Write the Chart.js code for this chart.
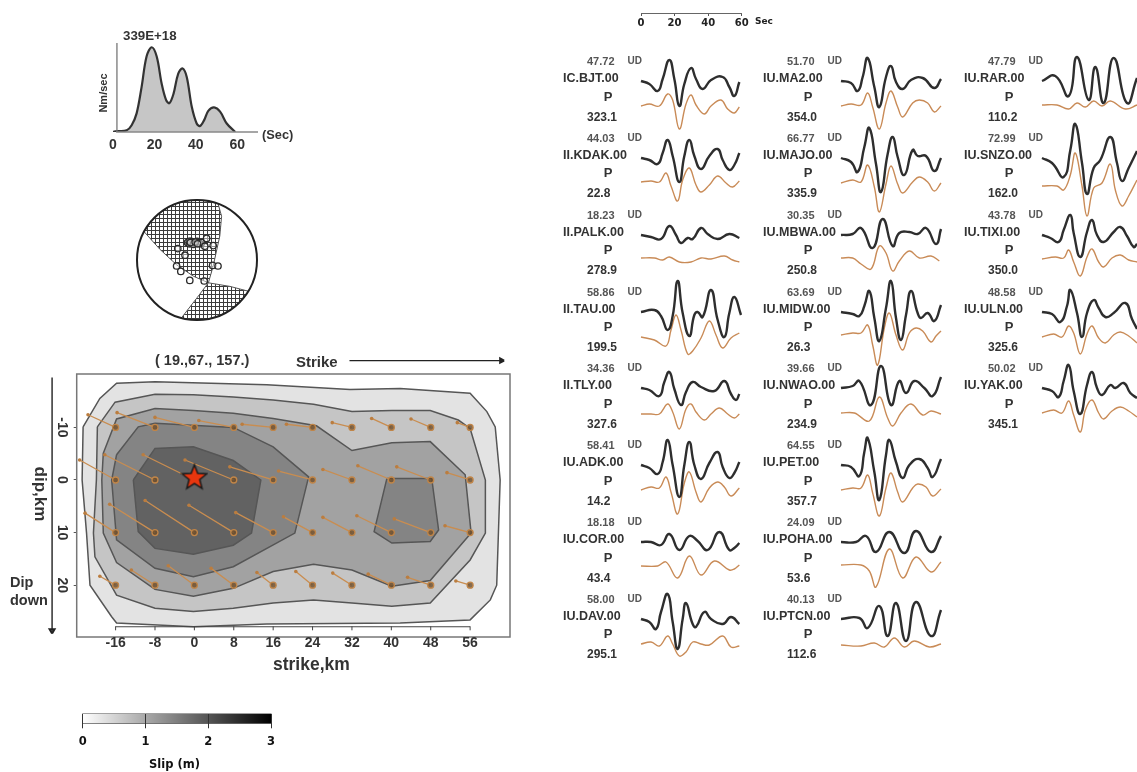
<!DOCTYPE html>
<html>
<head>
<meta charset="utf-8">
<title>Finite fault slip model</title>
<script src="https://cdn.jsdelivr.net/npm/chart.js@4"></script>
<style>
  html, body { margin: 0; padding: 0; background: #fff; overflow: hidden; }
  #page { position: relative; width: 1137px; height: 772px; overflow: hidden; filter: blur(0.6px); font-family: "Liberation Sans", Arial, sans-serif; }
  #page canvas { position: absolute; }
  .lbl { position: absolute; white-space: nowrap; line-height: 1; transform: translateY(-50%); font-weight: bold; color: #333; }
</style>
</head>
<body>
<div id="page"></div>
<script>
// source time function
var stfTime = [0, 1.8, 6.6, 9, 11.4, 13.8, 16.2, 18.7, 21.1, 23.5, 25.6, 27.2, 29.2, 31.5, 33.6, 35.6, 38, 40.4, 42, 44, 46, 48.8, 51.7, 54.9, 59];
var stfRate = [0, 1, 2, 8, 22, 53, 89, 100, 89, 57, 38, 34, 45, 69, 75, 65, 30, 10, 7, 14, 25, 29, 24, 10, 0];
var stfTicks = [0, 20, 40, 60];

// focal mechanism, unit circle coordinates
var nodalRegionA = [[-0.88, 0.47], [-0.62, 0.18], [-0.34, -0.08], [-0.06, -0.27], [0.19, -0.38], [0.27, -0.10], [0.38, 0.40], [0.41, 0.73], [0.35, 0.94], [0.17, 0.985], [0, 1], [-0.17, 0.985], [-0.34, 0.94], [-0.5, 0.866], [-0.64, 0.77], [-0.77, 0.64]];
var nodalRegionB = [[0.19, -0.38], [0.55, -0.44], [0.855, -0.52], [0.77, -0.64], [0.64, -0.77], [0.5, -0.866], [0.34, -0.94], [0.17, -0.985], [0, -1], [-0.17, -0.985], [-0.26, -0.966], [0, -0.63]];
var stationPolarity = [[-0.16, 0.29], [-0.13, 0.27], [-0.10, 0.31], [-0.08, 0.28], [-0.05, 0.30], [-0.02, 0.28], [0, 0.31], [0.03, 0.29], [-0.13, 0.31], [-0.06, 0.26], [0.05, 0.27], [0.08, 0.29], [-0.11, 0.29], [-0.03, 0.30], [0.01, 0.27], [0.16, 0.36], [0.13, 0.23], [0.27, 0.24], [-0.32, 0.19], [-0.20, 0.08], [-0.34, -0.10], [-0.27, -0.19], [-0.12, -0.34], [0.12, -0.35], [0.26, -0.09], [0.35, -0.10]];

// slip contours in km along strike / dip
var contourLevel1 = [[-22.6, -10.1], [-19.2, -15.5], [-15.8, -18.4], [-8, -18.7], [14.7, -18.1], [31.6, -17.2], [41.8, -17.4], [56, -16.5], [59.4, -13], [61.1, -10.1], [62.1, 0], [61.4, 20], [60.1, 22.8], [56, 26.6], [41.8, 27.2], [14.7, 27.4], [-0.2, 27.9], [-15.8, 27.2], [-16.8, 26], [-21.2, 20], [-21.9, 10.1], [-22.8, 0]];
var contourLevel2 = [[-19.7, -10.1], [-16.1, -14.8], [-8, -16.3], [-0.2, -16.2], [7.9, -15.8], [16, -15.2], [24.2, -14.4], [32, -13], [40.1, -13.2], [47.9, -13.2], [53.6, -11.4], [56, -9.8], [59.1, 0], [59.1, 10.1], [56, 15.2], [47.9, 23.4], [40.1, 24], [32, 23.4], [24.2, 22.8], [16, 23.4], [7.9, 24.4], [-0.2, 25], [-8, 24.4], [-15.8, 21.9], [-20.2, 14.6], [-20.5, 10.1], [-19.9, 0]];
var contourLevel3 = [[-18.5, -5.1], [-15.8, -11.6], [-8, -13.6], [-0.2, -13.2], [7.9, -12.7], [16, -11.7], [24.8, -10.3], [32, -5.6], [40.1, -7.1], [47.9, -7.3], [55, -1], [56.2, 10.1], [47.9, 19.1], [40.1, 20.2], [32, 17.1], [24.2, 16], [16, 17.4], [7.9, 20.6], [-0.2, 22.1], [-8, 20.8], [-15.8, 15.7], [-18.5, 10.1], [-18.8, 0]];
var contourLevel4 = [[-15.8, -4.8], [-11.4, -10.1], [-8, -10.8], [7.9, -10], [16, -6.3], [23.2, -0.6], [20.4, 10.1], [7.9, 16.5], [-0.2, 18.4], [-8, 16.8], [-15.8, 11.4], [-16.8, 0]];
var contourLevel4East = [[39.1, -0.3], [48.2, -0.3], [49.6, 9.5], [47.9, 11.7], [40.1, 12], [36.5, 9.8]];
var contourLevel5 = [[-12.4, 0], [-8, -6], [-0.2, -6.3], [7.9, -3.7], [13.5, 0], [11.6, 10.1], [7.9, 12.4], [-0.2, 14.1], [-8, 13], [-11.4, 9.8]];

// sub-fault nodes and the tips of their slip vectors
var strikeNodes = [-16, -8, 0, 8, 16, 24, 32, 40, 48, 56];
var dipNodes = [-10, 0, 10, 20];
var tipStrike = [
  [-21.6, -15.7, -8.0, 0.9, 9.7, 18.7, 28.0, 36.0, 44.0, 53.4],
  [-23.3, -18.2, -10.4, -1.9, 7.2, 17.1, 26.1, 33.2, 41.1, 51.3],
  [-22.2, -17.2, -10.0, -1.1, 8.4, 18.1, 26.1, 33.0, 40.6, 50.9],
  [-19.2, -12.8, -5.3, 3.4, 12.7, 20.6, 28.1, 35.3, 43.3, 53.1]
];
var tipDip = [
  [-12.4, -12.8, -11.9, -11.3, -10.6, -10.6, -10.9, -11.7, -11.6, -10.9],
  [-3.8, -4.8, -4.8, -3.8, -2.5, -1.7, -2.0, -2.7, -2.5, -1.4],
  [6.3, 4.6, 3.9, 4.8, 6.2, 7.0, 7.1, 6.8, 7.4, 8.7],
  [18.3, 17.1, 16.3, 16.8, 17.6, 17.4, 17.7, 17.9, 18.5, 19.2]
];
var hypocenter = [0, -0.5];
var slipTicksX = [-16, -8, 0, 8, 16, 24, 32, 40, 48, 56];
var slipTicksY = [-10, 0, 10, 20];

// colour bar
var slipBarTicks = [0, 1, 2, 3];
var slipBarColors = ['#ffffff', '#a9a9a9', '#555555', '#000000'];

// waveform stations
var stationNames = ['IC.BJT.00', 'II.KDAK.00', 'II.PALK.00', 'II.TAU.00', 'II.TLY.00', 'IU.ADK.00', 'IU.COR.00', 'IU.DAV.00', 'IU.MA2.00', 'IU.MAJO.00', 'IU.MBWA.00', 'IU.MIDW.00', 'IU.NWAO.00', 'IU.PET.00', 'IU.POHA.00', 'IU.PTCN.00', 'IU.RAR.00', 'IU.SNZO.00', 'IU.TIXI.00', 'IU.ULN.00', 'IU.YAK.00'];
var stationAmps = ['47.72', '44.03', '18.23', '58.86', '34.36', '58.41', '18.18', '58.00', '51.70', '66.77', '30.35', '63.69', '39.66', '64.55', '24.09', '40.13', '47.79', '72.99', '43.78', '48.58', '50.02'];
var stationAzimuths = ['323.1', '22.8', '278.9', '199.5', '327.6', '14.2', '43.4', '295.1', '354.0', '335.9', '250.8', '26.3', '234.9', '357.7', '53.6', '112.6', '110.2', '162.0', '350.0', '325.6', '345.1'];
var timeBarTicks = [0, 20, 40, 60];

// [seconds, amplitude] knots, one list per station
var observedTraces = [
  [[0,0],[5,-3],[10,-10],[13,2],[17,21],[20,2],[23,-25],[26,-3],[30,13],[33,2],[37,-8],[42,1],[49,4],[53,-6],[56,-15],[59,-1]],
  [[0,0],[5,-2],[10,-6],[13,5],[16,18],[19,2],[23,-24],[26,2],[29,18],[32,2],[36,-11],[41,2],[46,9],[49,-2],[53,-12],[56,-7],[59,5]],
  [[0,0],[6,-2],[12,-4],[17,9],[21,0],[24,-8],[28,-3],[31,-4],[36,7],[40,1],[46,-4],[53,1],[59,-3]],
  [[0,0],[8,2],[12,-4],[16,-18],[19,-4],[22,31],[25,-1],[29,-24],[32,-3],[34,0],[37,-5],[42,22],[46,-8],[50,-25],[53,-1],[56,15],[60,-3]],
  [[0,0],[5,-2],[11,-8],[14,6],[17,16],[20,-1],[24,-17],[27,-4],[31,6],[36,1],[44,-3],[50,7],[54,-6],[57,-12],[59,-6]],
  [[0,0],[5,-3],[10,-9],[13,3],[16,25],[19,0],[23,-32],[26,0],[29,23],[32,0],[36,-14],[41,2],[46,13],[49,-2],[53,-13],[56,-8],[59,3]],
  [[0,0],[6,0],[12,-3],[17,8],[23,-8],[29,6],[34,1],[40,-8],[47,10],[53,-8],[56,-6],[59,-1]],
  [[0,0],[5,-3],[9,-10],[12,7],[16,25],[19,-3],[22,-30],[25,0],[27,16],[31,-5],[33,-8],[38,7],[42,0],[49,-5],[54,2],[59,-5]],
  [[0,0],[6,-2],[10,-10],[13,4],[16,23],[20,-6],[23,-26],[27,4],[30,15],[33,-1],[37,-8],[42,1],[49,3],[56,-7],[60,2]],
  [[0,0],[6,-4],[10,-14],[14,11],[17,30],[21,-6],[24,-34],[28,4],[31,21],[34,1],[38,-17],[43,8],[46,2],[51,2],[56,-13],[60,0]],
  [[0,0],[7,1],[12,7],[19,-13],[25,16],[31,-11],[35,2],[41,3],[46,1],[51,7],[57,-9],[60,6]],
  [[0,0],[7,-2],[11,-4],[14,6],[17,21],[20,-6],[23,-29],[27,4],[30,31],[33,-6],[36,-28],[39,-3],[42,21],[46,-1],[48,-6],[52,-1],[56,-9],[60,7]],
  [[0,0],[7,2],[11,7],[18,-17],[24,22],[30,-17],[35,7],[39,-5],[44,7],[50,0],[55,-8],[60,11]],
  [[0,0],[6,-2],[11,-11],[14,13],[16,27],[20,-7],[23,-35],[27,10],[29,25],[33,3],[37,-13],[41,0],[47,6],[52,-3],[55,-12],[60,6]],
  [[0,0],[9,0],[15,6],[21,-10],[29,10],[38,-11],[45,11],[54,-10],[60,6]],
  [[0,0],[11,1],[16,-9],[23,13],[28,-17],[33,16],[39,-22],[45,17],[54,-17],[60,9]],
  [[0,0],[8,5],[16,-15],[21,24],[28,-19],[32,14],[37,-22],[43,23],[51,-22],[57,3]],
  [[0,0],[6,-5],[13,-19],[17,8],[20,34],[24,-5],[27,-36],[31,-10],[35,-2],[41,21],[45,-5],[48,-23],[52,-10],[57,7]],
  [[0,0],[5,-3],[10,-7],[13,5],[17,20],[19,2],[23,-22],[27,3],[30,15],[33,0],[37,-7],[43,3],[47,8],[51,-1],[55,-12],[57,-9]],
  [[0,0],[6,-2],[11,-10],[15,6],[17,22],[21,-1],[24,-25],[27,-1],[31,12],[34,4],[38,-5],[43,-1],[50,9],[54,-7],[57,-17]],
  [[0,0],[6,-3],[10,-9],[13,7],[16,23],[19,-3],[23,-26],[27,3],[30,16],[33,0],[36,-7],[41,3],[44,0],[49,5],[53,-5],[57,-10]]
];
var syntheticTraces = [
  [[0,-25],[5,-23],[11,-25],[16,-13],[19,-19],[23,-48],[27,-23],[30,-14],[33,-24],[38,-33],[42,-25],[48,-19],[52,-28],[56,-32],[59,-26]],
  [[0,-24],[6,-23],[11,-24],[15,-15],[18,-28],[22,-43],[25,-22],[29,-10],[33,-27],[36,-34],[41,-27],[46,-18],[51,-25],[55,-29],[59,-23]],
  [[0,-23],[8,-23],[13,-25],[17,-22],[23,-27],[30,-27],[36,-23],[42,-24],[50,-21],[55,-25],[59,-27]],
  [[0,-25],[8,-28],[15,-34],[18,-18],[21,-3],[24,-18],[28,-42],[31,-39],[36,-26],[41,-9],[45,-23],[49,-36],[54,-26],[59,-21]],
  [[0,-26],[6,-26],[11,-26],[16,-16],[19,-24],[23,-41],[27,-21],[30,-16],[33,-24],[38,-32],[42,-26],[47,-20],[52,-26],[56,-30],[59,-26]],
  [[0,-25],[6,-22],[11,-23],[15,-12],[18,-27],[22,-49],[26,-18],[29,-7],[33,-27],[36,-37],[41,-23],[46,-17],[50,-22],[54,-31],[59,-23]],
  [[0,-24],[10,-24],[15,-20],[22,-36],[29,-14],[36,-33],[44,-19],[53,-28],[56,-27],[59,-23]],
  [[0,-25],[6,-23],[11,-27],[16,-17],[19,-25],[23,-37],[27,-33],[31,-23],[36,-25],[41,-26],[49,-17],[54,-28],[59,-27]],
  [[0,-25],[6,-23],[12,-24],[16,-12],[19,-26],[23,-48],[27,-22],[30,-10],[34,-26],[37,-36],[43,-22],[47,-19],[52,-22],[56,-31],[60,-25]],
  [[0,-25],[7,-22],[12,-24],[16,-7],[20,-29],[23,-54],[27,-26],[30,-8],[34,-26],[37,-35],[43,-24],[47,-19],[52,-24],[56,-33],[60,-25]],
  [[0,-23],[7,-23],[12,-29],[18,-34],[23,-11],[27,-18],[31,-36],[35,-26],[41,-16],[47,-23],[54,-21],[59,-26]],
  [[0,-23],[7,-21],[12,-21],[16,-13],[19,-33],[22,-53],[26,-16],[29,-1],[33,-23],[37,-38],[41,-21],[45,-16],[49,-19],[54,-30],[57,-24],[60,-19]],
  [[0,-25],[8,-25],[17,-33],[23,-9],[28,-30],[31,-38],[36,-25],[42,-16],[49,-27],[54,-23],[60,-26]],
  [[0,-25],[7,-23],[12,-23],[16,-10],[19,-28],[23,-51],[27,-23],[30,-8],[34,-27],[37,-37],[43,-23],[46,-19],[51,-22],[55,-31],[60,-24]],
  [[0,-23],[12,-23],[17,-29],[21,-45],[29,-7],[37,-36],[45,-15],[54,-30],[60,-20]],
  [[0,-26],[12,-27],[20,-24],[26,-28],[32,-19],[38,-28],[44,-22],[53,-28],[60,-25]],
  [[0,-24],[9,-24],[16,-28],[21,-22],[26,-26],[31,-20],[36,-25],[41,-20],[50,-28],[57,-24]],
  [[0,-28],[9,-28],[13,-32],[17,-17],[20,5],[24,-28],[27,-58],[31,-30],[36,-25],[41,-6],[44,-32],[48,-48],[52,-38],[57,-22]],
  [[0,-24],[8,-22],[13,-23],[16,-15],[19,-27],[23,-41],[27,-22],[30,-14],[34,-27],[37,-32],[42,-23],[47,-20],[52,-25],[57,-27]],
  [[0,-25],[7,-22],[12,-25],[16,-14],[19,-21],[23,-42],[27,-22],[30,-14],[34,-26],[38,-31],[43,-23],[47,-20],[52,-24],[57,-31]],
  [[0,-25],[7,-22],[12,-25],[16,-13],[19,-27],[23,-44],[26,-22],[30,-12],[34,-25],[37,-31],[42,-23],[47,-19],[52,-23],[57,-29]]
];

var page = document.getElementById('page');
var SANS = '"Liberation Sans", Arial, sans-serif';
var DEJA = '"DejaVu Sans", sans-serif';

Chart.defaults.animation = false;
Chart.defaults.responsive = false;
Chart.defaults.events = [];
Chart.defaults.layout.autoPadding = false;
Chart.defaults.plugins.legend.display = false;
Chart.defaults.plugins.tooltip.enabled = false;
Chart.defaults.font.family = SANS;

// outline around the plot area
var frameBox = {
  id: 'frameBox',
  beforeDatasetsDraw: function (chart, args, opts) {
    var a = chart.chartArea;
    chart.ctx.save();
    chart.ctx.strokeStyle = opts.color || '#777';
    chart.ctx.lineWidth = opts.width || 1.5;
    chart.ctx.strokeRect(a.left, a.top, a.right - a.left, a.bottom - a.top);
    chart.ctx.restore();
  }
};

function addChart(left, top, width, height, config) {
  var canvas = document.createElement('canvas');
  canvas.width = width;
  canvas.height = height;
  canvas.style.left = left + 'px';
  canvas.style.top = top + 'px';
  page.appendChild(canvas);
  return new Chart(canvas, config);
}

function addLabel(text, x, y, size, extra) {
  var el = document.createElement('div');
  el.className = 'lbl';
  el.textContent = text;
  el.style.left = x + 'px';
  el.style.top = y + 'px';
  el.style.fontSize = size + 'px';
  if (extra) {
    Object.keys(extra).forEach(function (k) { el.style[k] = extra[k]; });
  }
  page.appendChild(el);
  return el;
}

function fixedTicks(values) {
  return function (scale) {
    scale.ticks = values.map(function (v) { return { value: v }; });
  };
}

function closed(points) {
  return points.concat([points[0]]);
}

function pairs(xs, ys) {
  return xs.map(function (x, i) { return [x, ys[i]]; });
}

/* ---- source time function ---- */
addChart(90, 30, 200, 130, {
  type: 'scatter',
  data: {
    datasets: [
      { data: [[1.9, 0], [1.9, 105]], showLine: true, borderColor: '#777', borderWidth: 1.3, pointRadius: 0, clip: false },
      { data: [[1.5, 0], [70, 0]], showLine: true, borderColor: '#888', borderWidth: 1.3, pointRadius: 0, clip: false },
      { data: pairs(stfTime, stfRate), showLine: true, borderColor: '#333', borderWidth: 2.2, pointRadius: 0, tension: 0.35, fill: 'origin', backgroundColor: '#c6c6c6' }
    ]
  },
  options: {
    layout: { padding: { left: 23, top: 13, right: 32 } },
    scales: {
      x: {
        type: 'linear', min: 0, max: 70,
        afterBuildTicks: fixedTicks(stfTicks),
        afterFit: function (s) { s.height = 28; },
        grid: { display: false }, border: { display: false },
        ticks: { color: '#333', font: { size: 14, weight: 'bold' }, padding: -3, maxRotation: 0 }
      },
      y: { display: false, min: 0, max: 105 }
    }
  }
});
addLabel('339E+18', 123, 36, 13.3);
addLabel('(Sec)', 262, 134.5, 12.8);
addLabel('Nm/sec', 103, 93, 11, { transform: 'translate(-50%,-50%) rotate(-90deg)' });

/* ---- focal mechanism ---- */
var tile = document.createElement('canvas');
tile.width = tile.height = 4;
var tileCtx = tile.getContext('2d');
tileCtx.fillStyle = '#3c3c3c';
tileCtx.fillRect(0, 0, 4, 4);
tileCtx.fillStyle = '#fff';
tileCtx.fillRect(1, 1, 3, 3);
var stipple = tileCtx.createPattern(tile, 'repeat');

addChart(127, 190, 140, 140, {
  type: 'scatter',
  data: {
    datasets: [
      { data: stationPolarity, pointRadius: 3.2, pointBackgroundColor: 'rgba(255,255,255,0.45)', pointBorderColor: '#2a2a2a', pointBorderWidth: 1.3, clip: false },
      { data: [[0, 0]], pointRadius: 60, pointBackgroundColor: 'rgba(0,0,0,0)', pointBorderColor: '#222', pointBorderWidth: 2, clip: false },
      { data: closed(nodalRegionA), showLine: true, fill: 'shape', backgroundColor: stipple, borderColor: '#555', borderWidth: 1, pointRadius: 0 },
      { data: closed(nodalRegionB), showLine: true, fill: 'shape', backgroundColor: stipple, borderColor: '#555', borderWidth: 1, pointRadius: 0 }
    ]
  },
  options: {
    scales: {
      x: { display: false, min: -1.1667, max: 1.1667 },
      y: { display: false, min: -1.1667, max: 1.1667 }
    }
  }
});

/* ---- slip map ---- */
var star = document.createElement('canvas');
star.width = star.height = 28;
(function (c) {
  c.beginPath();
  for (var i = 0; i < 10; i++) {
    var r = i % 2 ? 5.6 : 13;
    var ang = -Math.PI / 2 + i * Math.PI / 5;
    c.lineTo(14 + r * Math.cos(ang), 14.5 + r * Math.sin(ang));
  }
  c.closePath();
  c.fillStyle = '#e8360e';
  c.fill();
  c.lineWidth = 1.5;
  c.strokeStyle = '#1a1a1a';
  c.stroke();
})(star.getContext('2d'));

var nodePoints = [];
var tipPoints = [];
var vectorPath = [];
dipNodes.forEach(function (dip, row) {
  strikeNodes.forEach(function (strike, col) {
    nodePoints.push([strike, dip]);
    tipPoints.push([tipStrike[row][col], tipDip[row][col]]);
    vectorPath.push([strike, dip], [tipStrike[row][col], tipDip[row][col]], [NaN, NaN]);
  });
});

function contourSet(points, color) {
  return { data: closed(points), showLine: true, fill: 'shape', backgroundColor: color, borderColor: '#565656', borderWidth: 1.5, pointRadius: 0, tension: 0 };
}

addChart(0, 340, 530, 340, {
  type: 'scatter',
  data: {
    datasets: [
      { data: [hypocenter], pointStyle: star, pointRadius: 14, clip: false },
      { data: nodePoints, pointRadius: 3, pointBackgroundColor: 'rgba(110,78,42,0.8)', pointBorderColor: '#c08548', pointBorderWidth: 1.3 },
      { data: tipPoints, pointRadius: 1.8, pointBackgroundColor: '#bb7d3f', pointBorderWidth: 0, clip: false },
      { data: vectorPath, showLine: true, spanGaps: false, borderColor: '#c98d50', borderWidth: 1.3, pointRadius: 0 },
      { data: slipTicksX.map(function (v) { return [v, 28.2]; }), pointStyle: 'line', pointRotation: 90, pointRadius: 2, pointBorderColor: '#444', pointBorderWidth: 1 },
      { data: [[-16, 27.9], [56, 27.9]], showLine: true, borderColor: '#444', borderWidth: 1.2, pointRadius: 0 },
      { data: [[31.5, -22.7], [62.9, -22.7]], showLine: true, borderColor: '#222', borderWidth: 1.4, pointRadius: 0, clip: false },
      { data: [[62.9, -22.7], [62.1, -22.3], [62.1, -23.1], [62.9, -22.7]], showLine: true, borderColor: '#222', borderWidth: 2, pointRadius: 0, clip: false },
      { data: [[-28.9, -19.5], [-28.9, 28.8]], showLine: true, borderColor: '#222', borderWidth: 1.4, pointRadius: 0, clip: false },
      { data: [[-28.9, 29.2], [-29.4, 28.4], [-28.4, 28.4], [-28.9, 29.2]], showLine: true, borderColor: '#222', borderWidth: 2, pointRadius: 0, clip: false },
      contourSet(contourLevel5, '#626262'),
      contourSet(contourLevel4East, '#848484'),
      contourSet(contourLevel4, '#848484'),
      contourSet(contourLevel3, '#a2a2a2'),
      contourSet(contourLevel2, '#c5c5c5'),
      contourSet(contourLevel1, '#e3e3e3')
    ]
  },
  options: {
    layout: { padding: { top: 34, right: 20 } },
    scales: {
      x: {
        type: 'linear', min: -23.9, max: 64.1,
        afterBuildTicks: fixedTicks(slipTicksX),
        afterFit: function (s) { s.height = 43; },
        grid: { display: false }, border: { display: false },
        ticks: { color: '#333', font: { size: 14, weight: 'bold' }, padding: -10, maxRotation: 0, autoSkip: false, z: 1 }
      },
      y: {
        type: 'linear', min: -20.15, max: 29.85, reverse: true,
        afterBuildTicks: fixedTicks(slipTicksY),
        afterFit: function (s) { s.width = 76.7; },
        grid: { drawOnChartArea: false, tickLength: 3, tickColor: '#555' }, border: { display: false },
        ticks: { color: '#333', font: { size: 14, weight: 'bold' }, padding: 2, minRotation: -90, maxRotation: -90, crossAlign: 'center', autoSkip: false }
      }
    },
    plugins: { frameBox: { color: '#777', width: 1.5 } }
  },
  plugins: [frameBox]
});
addLabel('( 19.,67., 157.)', 155, 360, 14.5);
addLabel('Strike', 296, 360.5, 15);
addLabel('strike,km', 273, 665, 17.5);
addLabel('dip,km', 40, 494, 17, { transform: 'translate(-50%,-50%) rotate(90deg)' });
addLabel('Dip', 10, 582, 14.5);
addLabel('down', 10, 600, 14.5);

/* ---- slip colour bar ---- */
addChart(70, 705, 215, 50, {
  type: 'bar',
  data: {
    labels: ['Slip'],
    datasets: [{
      data: [3],
      barPercentage: 1,
      categoryPercentage: 1,
      backgroundColor: function (ctx) {
        var a = ctx.chart.chartArea;
        if (!a) { return '#888'; }
        var g = ctx.chart.ctx.createLinearGradient(a.left, 0, a.right, 0);
        slipBarColors.forEach(function (c, i) { g.addColorStop(i / (slipBarColors.length - 1), c); });
        return g;
      }
    }]
  },
  options: {
    indexAxis: 'y',
    layout: { padding: { left: 12.7, right: 14, top: 9 } },
    scales: {
      x: {
        type: 'linear', min: 0, max: 3,
        afterBuildTicks: fixedTicks(slipBarTicks),
        afterFit: function (s) { s.height = 31.7; },
        grid: { color: '#333', tickColor: '#333', tickLength: 5, z: 1, lineWidth: 1 },
        border: { display: false },
        ticks: { color: '#111', font: { family: DEJA, size: 11.5, weight: 'bold' }, padding: 7, maxRotation: 0 }
      },
      y: { display: false }
    },
    plugins: { frameBox: { color: '#444', width: 1 } }
  },
  plugins: [frameBox]
});
addLabel('Slip (m)', 149, 765, 11.5, { fontFamily: DEJA, color: '#111' });

/* ---- time scale above the waveforms ---- */
addChart(620, 0, 140, 34, {
  type: 'scatter',
  data: { datasets: [{ data: [] }] },
  options: {
    layout: { padding: { left: 21, right: 18.3, top: 11 } },
    scales: {
      x: {
        type: 'linear', min: 0, max: 60,
        afterBuildTicks: fixedTicks(timeBarTicks),
        afterFit: function (s) { s.height = 21; },
        grid: { drawOnChartArea: false, tickLength: 3, tickColor: '#555' },
        border: { color: '#666', width: 1 },
        ticks: { color: '#222', font: { family: DEJA, size: 10, weight: 'bold' }, padding: 1, maxRotation: 0 }
      },
      y: { display: false, min: 0, max: 1 }
    }
  }
});
addLabel('Sec', 755, 21, 9, { fontFamily: DEJA, color: '#222' });

/* ---- station waveforms, 8 rows per column ---- */
var COLUMN_LEFT = [641, 841, 1042];
var ROW_TOP = 61;
var ROW_STEP = 76.85;

stationNames.forEach(function (name, i) {
  var col = i < 8 ? 0 : (i < 16 ? 1 : 2);
  var row = i - [0, 8, 16][col];
  var waveX = COLUMN_LEFT[col];
  var y0 = ROW_TOP + ROW_STEP * row;

  addLabel(stationAmps[i], waveX - 54, y0, 11, { color: '#555' });
  addLabel('UD', waveX - 13.5, y0, 10, { color: '#555' });
  addLabel(name, waveX - 78, y0 + 17, 12.5);
  addLabel('P', waveX - 33, y0 + 34.5, 13, { transform: 'translate(-50%,-50%)' });
  addLabel(stationAzimuths[i], waveX - 54, y0 + 55.5, 12);

  // one value unit is one pixel up, one second is 1.667 pixels across
  addChart(waveX - 5, y0 + 20 - 50, 110, 120, {
    type: 'scatter',
    data: {
      datasets: [
        { data: observedTraces[i], showLine: true, borderColor: '#2e2e2e', borderWidth: 2.4, pointRadius: 0, tension: 0.5 },
        { data: syntheticTraces[i], showLine: true, borderColor: '#c98b57', borderWidth: 1.4, pointRadius: 0, tension: 0.4 }
      ]
    },
    options: {
      scales: {
        x: { display: false, min: -3, max: 63 },
        y: { display: false, min: -70, max: 50 }
      }
    }
  });
});
</script>
</body>
</html>
